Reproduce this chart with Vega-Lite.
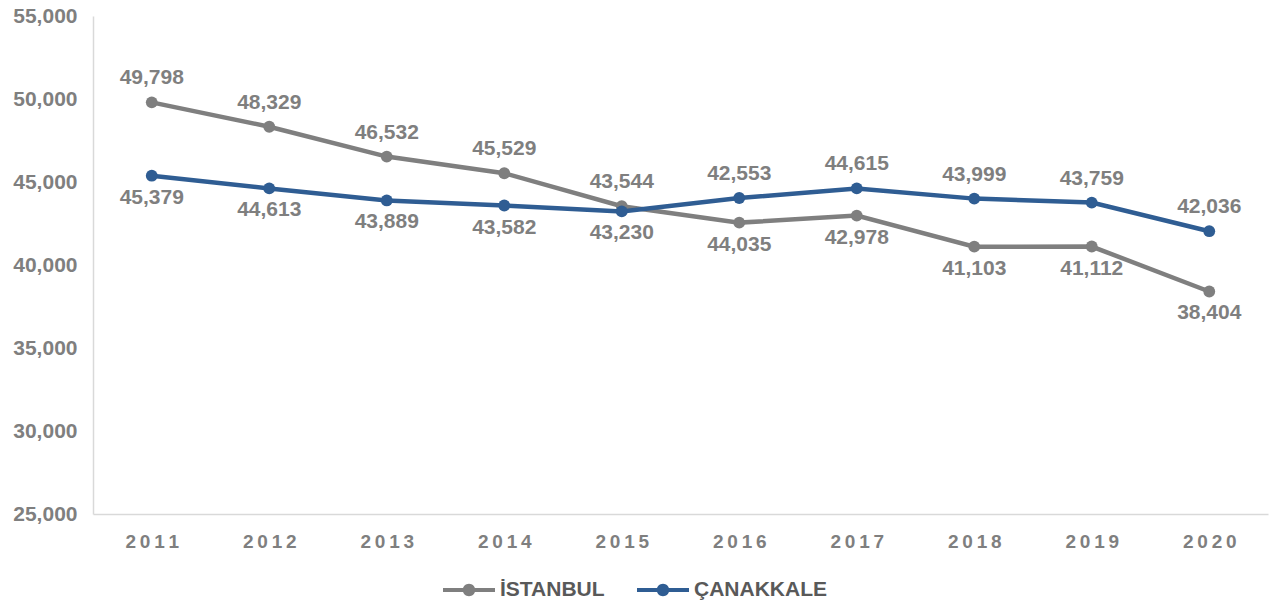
{
  "$schema": "https://vega.github.io/schema/vega-lite/v6.json",
  "width": 1175,
  "height": 498,
  "autosize": {"type": "none"},
  "padding": {"left": 93, "top": 16, "right": 7, "bottom": 92},
  "config": {
    "view": {"stroke": null},
    "font": "Liberation Sans",
    "axisY": {
      "title": null, "grid": false, "ticks": false,
      "domainColor": "#d9d9d9", "domainWidth": 1.5,
      "labelPadding": 16, "labelFontSize": 21, "labelFontWeight": "bold",
      "labelColor": "#7f7f7f", "labelFont": "Liberation Sans",
      "labelExpr": "format(datum.value, ',')"
    }
  },
  "data": {"values": [
    {"year": 2011, "series": "İSTANBUL", "value": 49798},
    {"year": 2012, "series": "İSTANBUL", "value": 48329},
    {"year": 2013, "series": "İSTANBUL", "value": 46532},
    {"year": 2014, "series": "İSTANBUL", "value": 45529},
    {"year": 2015, "series": "İSTANBUL", "value": 43544},
    {"year": 2016, "series": "İSTANBUL", "value": 42553},
    {"year": 2017, "series": "İSTANBUL", "value": 42978},
    {"year": 2018, "series": "İSTANBUL", "value": 41103},
    {"year": 2019, "series": "İSTANBUL", "value": 41112},
    {"year": 2020, "series": "İSTANBUL", "value": 38404},
    {"year": 2011, "series": "ÇANAKKALE", "value": 45379},
    {"year": 2012, "series": "ÇANAKKALE", "value": 44613},
    {"year": 2013, "series": "ÇANAKKALE", "value": 43889},
    {"year": 2014, "series": "ÇANAKKALE", "value": 43582},
    {"year": 2015, "series": "ÇANAKKALE", "value": 43230},
    {"year": 2016, "series": "ÇANAKKALE", "value": 44035},
    {"year": 2017, "series": "ÇANAKKALE", "value": 44615},
    {"year": 2018, "series": "ÇANAKKALE", "value": 43999},
    {"year": 2019, "series": "ÇANAKKALE", "value": 43759},
    {"year": 2020, "series": "ÇANAKKALE", "value": 42036}
  ]},
  "encoding": {
    "x": {
      "field": "year", "type": "ordinal",
      "scale": {"type": "point", "padding": 0.5},
      "axis": {
        "title": null, "labelAngle": 0, "ticks": false,
        "domainColor": "#d9d9d9", "domainWidth": 1.5,
        "labelPadding": 18, "labelFontSize": 19, "labelFontWeight": "bold",
        "labelColor": "#7f7f7f", "labelFont": "Liberation Sans",
        "labelExpr": "join(split(datum.label, ''), '\u2009')"
      }
    },
    "y": {
      "field": "value", "type": "quantitative",
      "scale": {"domain": [25000, 55000], "nice": false, "zero": false},
      "axis": {"values": [25000, 30000, 35000, 40000, 45000, 50000, 55000]}
    }
  },
  "layer": [
    {
      "transform": [{"filter": "datum.series === 'İSTANBUL'"}],
      "mark": {"type": "line", "strokeWidth": 4.5},
      "encoding": {
        "color": {
          "field": "series", "type": "nominal",
          "scale": {"domain": ["İSTANBUL", "ÇANAKKALE"], "range": ["#7f7f7f", "#2f5d93"]},
          "legend": {
            "title": null, "orient": "none", "direction": "horizontal",
            "legendX": 350, "legendY": 548,
            "symbolType": "M-1,-0.08H1V0.08H-1Z M0.24,0A0.24,0.24,0,1,1,-0.24,0A0.24,0.24,0,1,1,0.24,0Z",
            "symbolSize": 2704, "symbolStrokeWidth": 0,
            "labelFontSize": 21, "labelFontWeight": "bold", "labelColor": "#595959",
            "labelFont": "Liberation Sans", "labelOffset": 5, "columnPadding": 32,
            "encode": {"symbols": {"update": {"fill": {"scale": "color", "field": "value"}, "opacity": {"value": 1}}}}
          }
        }
      }
    },
    {
      "transform": [{"filter": "datum.series === 'İSTANBUL'"}],
      "mark": {"type": "point", "filled": true, "size": 140, "opacity": 1},
      "encoding": {"color": {"field": "series", "type": "nominal"}}
    },
    {
      "transform": [{"filter": "datum.series === 'ÇANAKKALE'"}],
      "mark": {"type": "line", "strokeWidth": 4.5},
      "encoding": {"color": {"field": "series", "type": "nominal"}}
    },
    {
      "transform": [{"filter": "datum.series === 'ÇANAKKALE'"}],
      "mark": {"type": "point", "filled": true, "size": 140, "opacity": 1},
      "encoding": {"color": {"field": "series", "type": "nominal"}}
    },
    {
      "transform": [
        {"joinaggregate": [{"op": "max", "field": "value", "as": "ymax"}], "groupby": ["year"]},
        {"filter": "(datum.series === 'İSTANBUL') === (datum.year <= 2016)"}
      ],
      "mark": {"type": "text", "dy": -24, "fontSize": 21, "fontWeight": "bold", "color": "#7f7f7f", "font": "Liberation Sans"},
      "encoding": {
        "y": {"field": "ymax", "type": "quantitative"},
        "text": {"field": "value", "type": "quantitative", "format": ","}
      }
    },
    {
      "transform": [
        {"joinaggregate": [{"op": "min", "field": "value", "as": "ymin"}], "groupby": ["year"]},
        {"filter": "(datum.series === 'İSTANBUL') !== (datum.year <= 2016)"}
      ],
      "mark": {"type": "text", "dy": 22, "fontSize": 21, "fontWeight": "bold", "color": "#7f7f7f", "font": "Liberation Sans"},
      "encoding": {
        "y": {"field": "ymin", "type": "quantitative"},
        "text": {"field": "value", "type": "quantitative", "format": ","}
      }
    }
  ]
}
